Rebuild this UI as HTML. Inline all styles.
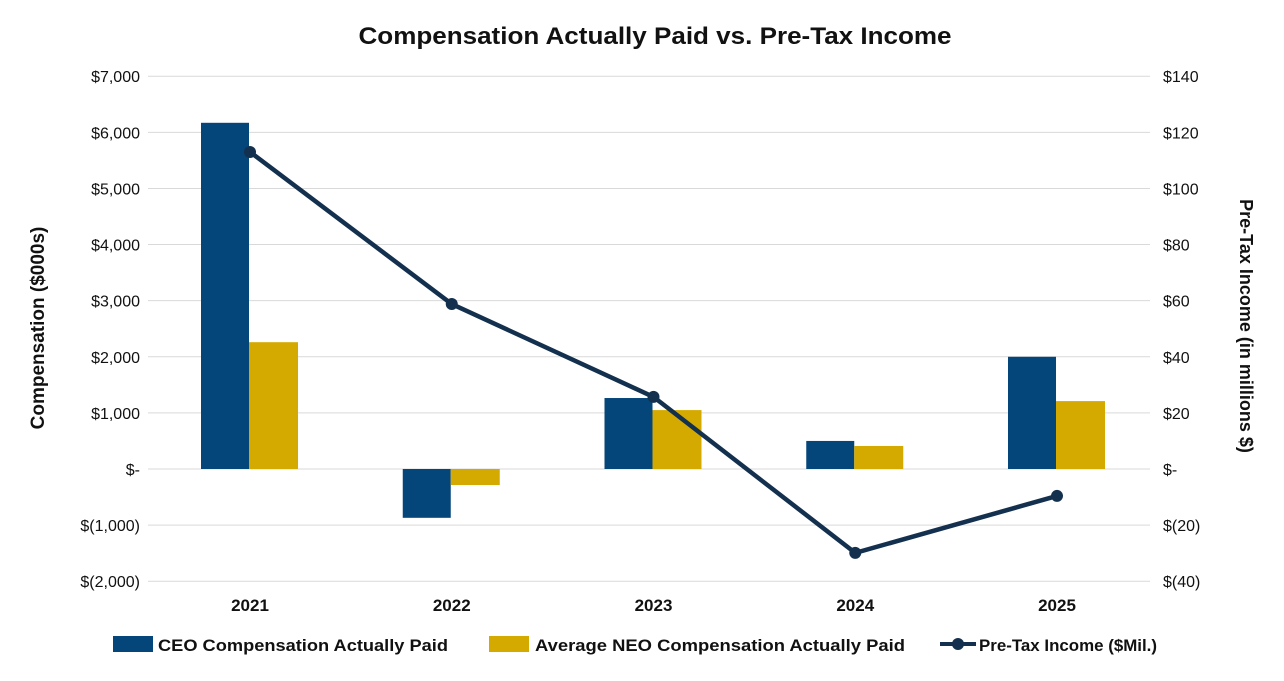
<!DOCTYPE html>
<html><head><meta charset="utf-8"><style>
body{margin:0;background:#fff;font-family:"Liberation Sans",sans-serif}
svg text{font-family:"Liberation Sans",sans-serif;fill:#111}
</style></head><body>
<svg id="c" width="1284" height="676">
<text x="655" y="44" text-anchor="middle" font-size="24" font-weight="bold" textLength="593" lengthAdjust="spacingAndGlyphs">Compensation Actually Paid vs. Pre-Tax Income</text>
<text transform="translate(44,328) rotate(-90)" text-anchor="middle" font-size="19" font-weight="bold">Compensation ($000s)</text>
<text transform="translate(1240,326) rotate(90)" text-anchor="middle" font-size="18" font-weight="bold">Pre-Tax Income (in millions $)</text>
<g id="grid"></g><g id="bars"></g><g id="line"></g><g id="ticks"></g>
<g>
<rect x="113" y="636" width="40" height="16" fill="#05467A"/>
<text x="158" y="651" font-size="17" font-weight="bold" textLength="290" lengthAdjust="spacingAndGlyphs">CEO Compensation Actually Paid</text>
<rect x="489" y="636" width="40" height="16" fill="#D4AA00"/>
<text x="535" y="651" font-size="17" font-weight="bold" textLength="370" lengthAdjust="spacingAndGlyphs">Average NEO Compensation Actually Paid</text>
<line x1="940" y1="644" x2="976" y2="644" stroke="#14304F" stroke-width="4"/>
<circle cx="958" cy="644" r="6" fill="#14304F"/>
<text x="979" y="651" font-size="17" font-weight="bold" textLength="178" lengthAdjust="spacingAndGlyphs">Pre-Tax Income ($Mil.)</text>
</g>
</svg>
<script>
const years=["2021","2022","2023","2024","2025"];
const ceo=[6170,-870,1265,500,2000];
const neo=[2260,-285,1050,410,1210];
const pretax=[113,58.8,25.7,-29.9,-9.6];
const leftTicks=[-2000,-1000,0,1000,2000,3000,4000,5000,6000,7000];
const rightTicks=[-40,-20,0,20,40,60,80,100,120,140];
const NS="http://www.w3.org/2000/svg";
const yL=v=>469-v*505/9000, yR=v=>469-v*505/180, xC=i=>250+i*201.75;
function mk(t,a,p){const e=document.createElementNS(NS,t);for(const k in a)e.setAttribute(k,a[k]);document.getElementById(p).appendChild(e);return e;}
const fmtL=v=>v===0?"$-":v<0?"$("+(-v).toLocaleString("en-US")+")":"$"+v.toLocaleString("en-US");
const fmtR=v=>v===0?"$-":v<0?"$("+(-v)+")":"$"+v;
leftTicks.forEach(v=>{const g=mk("line",{x1:148,x2:1150,y1:yL(v),y2:yL(v),stroke:"#d9d9d9","stroke-width":1},"grid");


const t=mk("text",{x:140,y:yL(v)+6,"text-anchor":"end","font-size":16},"ticks");t.textContent=fmtL(v);

});
rightTicks.forEach(v=>{const t=mk("text",{x:1163,y:yR(v)+6,"font-size":16},"ticks");t.textContent=fmtR(v);

});
years.forEach((y,i)=>{const x=xC(i);
const a=mk("rect",{x:x-49,y:Math.min(yL(ceo[i]),yL(0)),width:48,height:Math.abs(yL(ceo[i])-yL(0)),fill:"#05467A"},"bars");


const b=mk("rect",{x:x-1,y:Math.min(yL(neo[i]),yL(0)),width:49,height:Math.abs(yL(neo[i])-yL(0)),fill:"#D4AA00"},"bars");


const t=mk("text",{x:x,y:611,"text-anchor":"middle","font-size":17,"font-weight":"bold"},"ticks");t.textContent=y;

});
const pl=mk("polyline",{points:pretax.map((v,i)=>xC(i)+","+yR(v)).join(" "),fill:"none",stroke:"#14304F","stroke-width":4.5},"line");


pretax.forEach((v,i)=>{const c=mk("circle",{cx:xC(i),cy:yR(v),r:6,fill:"#14304F"},"line");

});
</script>
</body></html>
